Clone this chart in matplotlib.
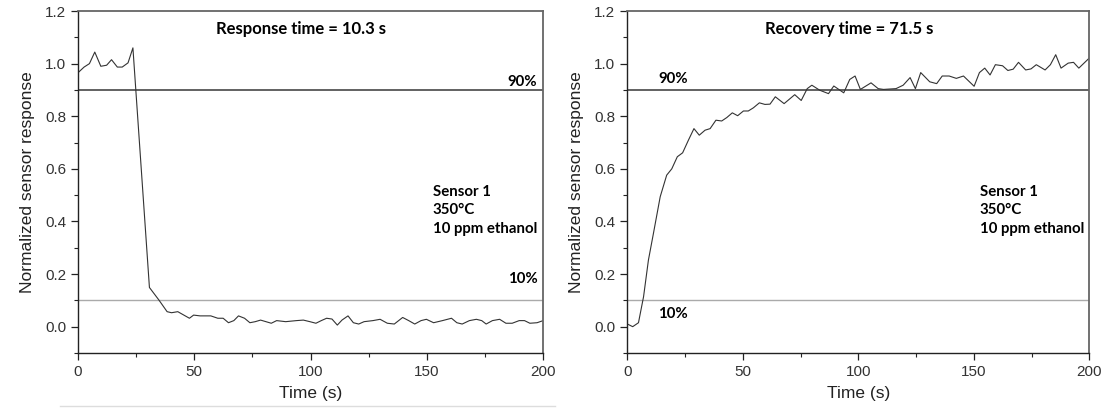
import matplotlib.pyplot as plt
from matplotlib.lines import Line2D
from matplotlib.ticker import MultipleLocator

plt.rcParams["font.family"] = ["Liberation Sans", "DejaVu Sans"]

# response (gas on -> off) curve
resp_t = [0.3, 2.6, 4.9, 7.2, 9.8, 12.3, 14.4, 16.9, 19.0, 21.5, 23.6, 30.7,
          34.8, 38.3, 40.2, 42.9, 47.9, 49.7, 52.5, 57.1, 60.1, 62.4, 64.7,
          67.0, 69.0, 71.6, 73.9, 76.2, 78.5, 80.8, 83.1, 85.4, 89.3, 93.9,
          96.9, 99.7, 102.3, 104.6, 106.9, 109.2, 111.5, 113.5, 116.1, 118.4,
          120.7, 123.0, 126.8, 129.9, 133.0, 136.0, 139.6, 142.2, 144.8,
          147.5, 149.8, 152.9, 156.7, 160.6, 162.9, 165.2, 168.3, 171.3,
          173.6, 175.5, 178.2, 181.3, 184.0, 186.7, 189.7, 192.0, 194.3,
          197.4, 200.0]
resp_y = [0.968, 0.987, 1.000, 1.044, 0.990, 0.994, 1.015, 0.987, 0.987,
          1.003, 1.060, 0.149, 0.101, 0.057, 0.053, 0.057, 0.032, 0.044,
          0.041, 0.041, 0.032, 0.032, 0.015, 0.023, 0.041, 0.032, 0.015,
          0.019, 0.025, 0.019, 0.013, 0.023, 0.019, 0.023, 0.025, 0.019,
          0.013, 0.023, 0.032, 0.029, 0.006, 0.025, 0.041, 0.015, 0.010,
          0.019, 0.023, 0.028, 0.013, 0.010, 0.035, 0.023, 0.010, 0.023,
          0.028, 0.015, 0.023, 0.032, 0.015, 0.010, 0.023, 0.028, 0.023,
          0.010, 0.023, 0.028, 0.013, 0.013, 0.023, 0.023, 0.013, 0.015,
          0.023]

# recovery curve
rec_t = [0.1, 2.4, 4.9, 7.1, 9.2, 11.4, 14.3, 17.1, 19.3, 21.7, 24.0, 26.5,
         28.9, 31.2, 33.7, 35.9, 38.4, 40.9, 43.1, 45.5, 47.8, 50.3, 52.4,
         54.6, 57.2, 59.6, 61.8, 64.1, 67.9, 72.5, 75.3, 77.9, 79.9, 83.3,
         87.1, 89.4, 93.7, 96.3, 98.6, 100.9, 105.5, 108.6, 110.9, 116.3,
         119.4, 122.4, 124.7, 127.0, 130.9, 133.9, 136.3, 139.3, 142.4,
         145.5, 150.1, 152.4, 154.7, 157.0, 159.3, 162.4, 164.7, 167.0,
         169.3, 172.4, 174.7, 177.0, 180.8, 183.1, 185.4, 187.7, 190.8,
         193.1, 195.4, 200.0]
rec_y = [0.010, 0.000, 0.015, 0.114, 0.253, 0.356, 0.494, 0.576, 0.600,
         0.646, 0.661, 0.709, 0.753, 0.728, 0.747, 0.753, 0.785, 0.782,
         0.795, 0.813, 0.802, 0.820, 0.820, 0.832, 0.851, 0.845, 0.846,
         0.874, 0.848, 0.882, 0.860, 0.905, 0.918, 0.899, 0.886, 0.915,
         0.889, 0.940, 0.953, 0.902, 0.927, 0.905, 0.902, 0.905, 0.918,
         0.947, 0.905, 0.966, 0.931, 0.924, 0.953, 0.953, 0.944, 0.953,
         0.914, 0.966, 0.983, 0.957, 0.996, 0.992, 0.974, 0.979, 1.005,
         0.976, 0.980, 0.996, 0.976, 0.996, 1.034, 0.983, 1.002, 1.005,
         0.983, 1.022]

panels = [
    ("Response time = 10.3 s", resp_t, resp_y, "right"),
    ("Recovery time = 71.5 s", rec_t, rec_y, "left"),
]

fig = plt.figure(figsize=(11.1, 4.09), dpi=100)
axes = [fig.add_axes([0.0703, 0.137, 0.419, 0.836]),
        fig.add_axes([0.565, 0.137, 0.4165, 0.836])]

bold = dict(family=["Lato", "DejaVu Sans"], fontweight="bold",
            fontsize=10.8, color="black")

for ax, (title, t, y, side) in zip(axes, panels):
    ax.axhline(0.9, color="#555555", lw=1.3, zorder=1)
    ax.axhline(0.1, color="#aaaaaa", lw=1.0, zorder=1)
    ax.plot(t, y, color="#333333", lw=0.8, zorder=2)

    ax.set_xlim(0, 200)
    ax.set_ylim(-0.1, 1.2)
    ax.xaxis.set_major_locator(MultipleLocator(50))
    ax.xaxis.set_minor_locator(MultipleLocator(25))
    ax.yaxis.set_major_locator(MultipleLocator(0.2))
    ax.yaxis.set_minor_locator(MultipleLocator(0.1))
    ax.tick_params(which="major", direction="out", length=5, width=0.9,
                   labelsize=11, labelcolor="#333333", color="#222222")
    ax.tick_params(which="minor", direction="out", length=3, width=0.8,
                   color="#222222")

    for s in ("left", "bottom"):
        ax.spines[s].set_color("#222222")
        ax.spines[s].set_linewidth(1.0)
    for s in ("top", "right"):
        ax.spines[s].set_color("#666666")
        ax.spines[s].set_linewidth(1.3)

    ax.set_xlabel("Time (s)", fontsize=12.5, color="#222222", labelpad=5)
    ax.set_ylabel("Normalized sensor response", fontsize=12.5,
                  color="#222222", labelpad=7)

    ax.text(96, 1.133, title, ha="center", va="center",
            **{**bold, "fontsize": 12})
    if side == "right":
        ax.text(197.5, 0.93, "90%", ha="right", va="center", **bold)
        ax.text(197.5, 0.18, "10%", ha="right", va="center", **bold)
    else:
        ax.text(13.3, 0.943, "90%", ha="left", va="center", **bold)
        ax.text(13.3, 0.048, "10%", ha="left", va="center", **bold)
    ax.text(152.5, 0.443, "Sensor 1\n350°C\n10 ppm ethanol", ha="left",
            va="center", linespacing=1.4, **bold)

# faint page edge under the left panel in the screenshot
fig.add_artist(Line2D([0.054, 0.5], [0.007, 0.007], color="#dddddd", lw=1))

fig.savefig("out.png", dpi=100)
